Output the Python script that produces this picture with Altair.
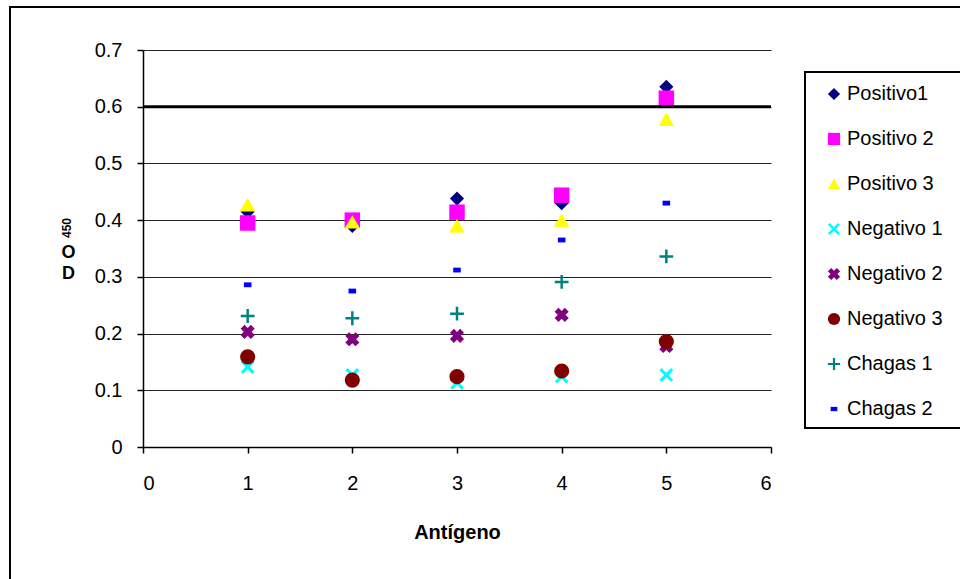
import altair as alt
import pandas as pd

# ---- data ----
antigens = [1, 2, 3, 4, 5]
series = ["Positivo1", "Positivo 2", "Positivo 3", "Negativo 1",
          "Negativo 2", "Negativo 3", "Chagas 1", "Chagas 2"]
positivo1 = [0.415, 0.390, 0.438, 0.430, 0.635]
positivo2 = [0.395, 0.400, 0.414, 0.444, 0.615]
positivo3 = [0.427, 0.397, 0.390, 0.400, 0.578]
negativo1 = [0.141, 0.127, 0.113, 0.124, 0.127]
negativo2 = [0.203, 0.190, 0.196, 0.233, 0.178]
negativo3 = [0.159, 0.118, 0.124, 0.134, 0.186]
chagas1 = [0.231, 0.227, 0.235, 0.291, 0.336]
chagas2 = [0.286, 0.275, 0.312, 0.365, 0.430]
cutoff = 0.6

colors = ["#000080", "#FF00FF", "#FFFF00", "#00FFFF",
          "#800080", "#800000", "#008080", "#0000FF"]


def xshape(d):
    return (f"M-1,{-1+d}L{-1+d},-1L0,{-d}L{1-d},-1L1,{-1+d}L{d},0L1,{1-d}"
            f"L{1-d},1L0,{d}L{-1+d},1L-1,{1-d}L{-d},0Z")


plus = ("M-0.18,-1L0.18,-1L0.18,-0.18L1,-0.18L1,0.18L0.18,0.18L0.18,1"
        "L-0.18,1L-0.18,0.18L-1,0.18L-1,-0.18L-0.18,-0.18Z")
dash = "M-0.55,-0.35L0.55,-0.35L0.55,0.35L-0.55,0.35Z"
shapes = ["diamond", "square", "triangle-up", xshape(0.32),
          xshape(0.55), "circle", plus, dash]
sizes = [200, 240, 240, 190, 200, 230, 190, 190]

values = [positivo1, positivo2, positivo3, negativo1,
          negativo2, negativo3, chagas1, chagas2]
rows = []
for i, (s, vals) in enumerate(zip(series, values)):
    for a, v in zip(antigens, vals):
        rows.append({"Antígeno": a, "OD": v, "Serie": s, "ord": i,
                     "sz": sizes[i]})
df = pd.DataFrame(rows)

W, H = 628, 397
FONT = "Liberation Sans"
one = pd.DataFrame({"k": [0]})

points = alt.Chart(df).mark_point(filled=True, opacity=1, strokeWidth=0).encode(
    x=alt.X("Antígeno:Q",
            scale=alt.Scale(domain=[0, 6], nice=False),
            axis=alt.Axis(values=[0, 1, 2, 3, 4, 5, 6], format="d",
                          title="Antígeno", grid=False,
                          titleFontWeight="bold", titleFontSize=20,
                          titleY=85, titleBaseline="middle")),
    y=alt.Y("OD:Q",
            scale=alt.Scale(domain=[0, 0.7], nice=False),
            axis=alt.Axis(values=[0, 0.1, 0.2, 0.3, 0.4, 0.5, 0.6, 0.7],
                          format="~g", title=["O", "D"], titleAngle=0,
                          titleAlign="center", titleBaseline="top",
                          titleX=-75, titleY=193, titleFontWeight="bold",
                          titleFontSize=18, titleLineHeight=21,
                          grid=True)),
    color=alt.Color("Serie:N", scale=alt.Scale(domain=series, range=colors),
                    legend=alt.Legend(title=None, orient="none",
                                      legendX=681, legendY=34)),
    shape=alt.Shape("Serie:N", scale=alt.Scale(domain=series, range=shapes)),
    size=alt.Size("sz:Q", scale=None),
    order=alt.Order("ord:Q"),
)

rule = alt.Chart(one).mark_rule(color="black", strokeWidth=3).encode(
    y=alt.datum(cutoff), x=alt.value(0), x2=alt.value(W))

sub = alt.Chart(one).mark_text(
    text="450", angle=270, fontSize=12, fontWeight="bold", font=FONT,
    align="center", baseline="middle", color="black").encode(
    x=alt.value(-76), y=alt.value(178))

legend_frame = alt.Chart(one).mark_rect(
    fill="white", stroke="black", strokeWidth=2).encode(
    x=alt.value(662), x2=alt.value(840), y=alt.value(22), y2=alt.value(378))

outer = alt.Chart(one).mark_rect(
    fillOpacity=0, stroke="black", strokeWidth=2).encode(
    x=alt.value(-133), x2=alt.value(840), y=alt.value(-43), y2=alt.value(545))

chart = alt.layer(outer, legend_frame, points, rule, sub).properties(
    width=W, height=H,
    padding={"left": 143, "top": 50, "right": 189, "bottom": 132},
    autosize=alt.AutoSizeParams(type="none"),
    background="white",
).configure_view(stroke=None).configure_axis(
    labelFont=FONT, titleFont=FONT, labelFontSize=20, labelColor="black",
    titleColor="black", domainColor="black", domainWidth=1.5,
    tickColor="black", tickSize=6, tickWidth=1.5,
    gridColor="#222222", gridWidth=1,
).configure_axisY(labelPadding=15).configure_axisX(labelPadding=20).configure_legend(
    labelFont=FONT, labelFontSize=20, labelColor="black",
    rowPadding=25, symbolOffset=0, labelOffset=3, padding=0, symbolSize=150,
)

chart.save("out.html", embed_options={"renderer": "svg", "actions": False})
